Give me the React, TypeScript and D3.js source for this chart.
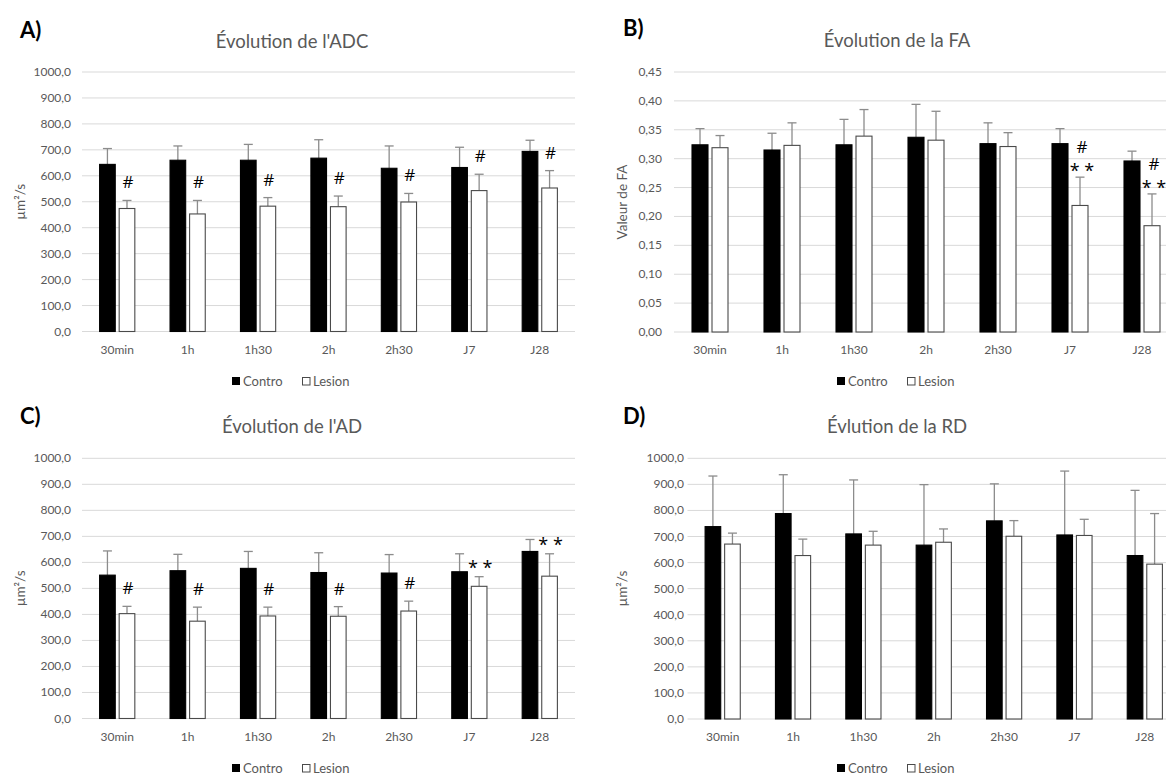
import React from 'react';
import * as d3 from 'd3';

const categories = ['30min', '1h', '1h30', '2h', '2h30', 'J7', 'J28'];
const series = ['Contro', 'Lesion'];

const adcControl = [644, 660, 660, 668, 629, 632, 694];
const adcControlSD = [61, 55, 61, 71, 86, 78, 43];
const adcLesion = [474, 453, 483, 481, 499, 543, 553];
const adcLesionSD = [31, 52, 33, 41, 33, 63, 67];
const adcMarks = [['#'], ['#'], ['#'], ['#'], ['#'], ['#'], ['#']];

const faControl = [0.324, 0.315, 0.324, 0.337, 0.326, 0.326, 0.296];
const faControlSD = [0.028, 0.029, 0.044, 0.057, 0.036, 0.026, 0.017];
const faLesion = [0.319, 0.323, 0.339, 0.332, 0.321, 0.219, 0.184];
const faLesionSD = [0.021, 0.039, 0.046, 0.05, 0.024, 0.049, 0.055];
const faMarks = [[], [], [], [], [], ['#', '**'], ['#', '**']];

const adControl = [551, 568, 577, 561, 559, 564, 642];
const adControlSD = [93, 63, 65, 76, 71, 69, 46];
const adLesion = [403, 374, 394, 393, 413, 508, 547];
const adLesionSD = [28, 54, 34, 37, 38, 37, 86];
const adMarks = [['#'], ['#'], ['#'], ['#'], ['#'], ['**'], ['**']];

const rdControl = [738, 788, 710, 667, 760, 706, 627];
const rdControlSD = [194, 149, 207, 232, 142, 245, 250];
const rdLesion = [671, 627, 667, 678, 701, 704, 594];
const rdLesionSD = [42, 63, 53, 51, 60, 62, 194];
const rdMarks = [[], [], [], [], [], [], []];

const umTicks = [0, 100, 200, 300, 400, 500, 600, 700, 800, 900, 1000];
const faTicks = [0, 0.05, 0.1, 0.15, 0.2, 0.25, 0.3, 0.35, 0.4, 0.45];

const FONT = 'Lato, "Open Sans", sans-serif';
const MARK_FONT = '"Open Sans", "DejaVu Sans", sans-serif';
const GREY = '#595959';

type PanelProps = {
  label: string; title: string; yLabel: string;
  x0: number; x1: number; yTop: number; yBot: number; yMax: number;
  ticks: number[]; decimals: number;
  control: number[]; controlSD: number[]; lesion: number[]; lesionSD: number[];
  marks: string[][];
  labelX: number; labelY: number; titleX: number; titleY: number;
  yLabelX: number; tickRight: number; catY: number; legendY: number; legendCX: number;
};

function Mark({ s, x, center, k }: { s: string; x: number; center: number; k: string }) {
  const isStar = s === '**';
  return (
    <text key={k} x={x} y={center + (isStar ? 11 : 6)} textAnchor="middle"
      fontSize={isStar ? 18 : 17} fontFamily={MARK_FONT} fill="#000">{isStar ? '* *' : s}</text>
  );
}

function Panel(p: PanelProps) {
  const x = d3.scaleBand<string>().domain(categories).range([p.x0, p.x1]).padding(0);
  const cw = x.bandwidth();
  const xs = d3.scaleBand<string>().domain(series).range([cw * 0.25, cw * 0.75]).paddingInner(0.2);
  const bw = xs.bandwidth();
  const y = d3.scaleLinear().domain([0, p.yMax]).range([p.yBot, p.yTop]);
  const fmt = (v: number) => v.toFixed(p.decimals).replace('.', ',');
  const cap = 4.5;
  const errColor = '#8c8c8c';

  const bars: React.ReactNode[] = [];
  categories.forEach((c, i) => {
    const vals = [
      { s: 'Contro', v: p.control[i], sd: p.controlSD[i] },
      { s: 'Lesion', v: p.lesion[i], sd: p.lesionSD[i] },
    ];
    vals.forEach(({ s, v, sd }) => {
      const bx = (x(c) as number) + (xs(s) as number);
      const cx = bx + bw / 2;
      const top = y(v);
      const et = y(v + sd);
      bars.push(
        <g key={c + s}>
          <line x1={cx} x2={cx} y1={top} y2={et} stroke={errColor} strokeWidth={1.3} />
          <line x1={cx - cap} x2={cx + cap} y1={et} y2={et} stroke={errColor} strokeWidth={1.3} />
          <rect x={bx} y={top} width={bw} height={p.yBot - top}
            fill={s === 'Contro' ? '#000' : '#fff'}
            stroke={s === 'Contro' ? '#000' : '#4a4a4a'} strokeWidth={1.1} />
        </g>
      );
    });
    const m = p.marks[i];
    if (m.length) {
      const cx = (x(c) as number) + (xs('Lesion') as number) + bw / 2;
      const et = y(p.lesion[i] + p.lesionSD[i]);
      if (m.length === 1) {
        const isStar = m[0] === '**';
        bars.push(<Mark key={c + 'm'} k={c + 'm'} s={m[0]} x={cx + 1} center={isStar ? et - 14 : et - 18} />);
      } else {
        bars.push(
          <Mark key={c + 'm1'} k={c + 'm1'} s={m[0]} x={cx + 2} center={et - 30} />,
          <Mark key={c + 'm2'} k={c + 'm2'} s={m[1]} x={cx + 2} center={et - 11} />
        );
      }
    }
  });

  const lx = p.legendCX - 60;
  const yMid = (p.yTop + p.yBot) / 2;

  return (
    <g>
      <text x={p.labelX} y={p.labelY} fontSize={22} fontWeight="bold" fontFamily={FONT} fill="#000">{p.label}</text>
      <text x={p.titleX} y={p.titleY} fontSize={18.5} textAnchor="middle" fontFamily={FONT} fill={GREY}>{p.title}</text>
      {p.ticks.map((t) => (
        <g key={'t' + t}>
          <line x1={p.x0} x2={p.x1} y1={y(t)} y2={y(t)} stroke="#d9d9d9" strokeWidth={1} />
          <text x={p.tickRight} y={y(t) + 4} textAnchor="end" fontSize={12} fontFamily={FONT} fill={GREY}>{fmt(t)}</text>
        </g>
      ))}
      <text transform={`translate(${p.yLabelX},${yMid}) rotate(-90)`} textAnchor="middle" dy="0.35em"
        fontSize={13.5} fontFamily={FONT} fill={GREY}>{p.yLabel}</text>
      {bars}
      {categories.map((c) => (
        <text key={'c' + c} x={(x(c) as number) + cw / 2} y={p.catY} textAnchor="middle"
          fontSize={12} fontFamily={FONT} fill={GREY}>{c}</text>
      ))}
      <rect x={lx} y={p.legendY - 4} width={8} height={8} fill="#000" />
      <text x={lx + 11} y={p.legendY + 4.5} fontSize={13} fontFamily={FONT} fill={GREY}>Contro</text>
      <rect x={lx + 70.5} y={p.legendY - 3.5} width={7.5} height={7.5} fill="#fff" stroke="#4a4a4a" strokeWidth={1} />
      <text x={lx + 81} y={p.legendY + 4.5} fontSize={13} fontFamily={FONT} fill={GREY}>Lesion</text>
    </g>
  );
}

export default function App() {
  return (
    <svg width={1166} height={774} style={{ position: 'absolute', left: 0, top: 0, background: '#fff' }}>
      <rect x={0} y={0} width={1166} height={774} fill="#fff" />
      <Panel label="A)" title="Évolution de l'ADC" yLabel="µm²/s"
        x0={82} x1={575} yTop={72} yBot={331.5} yMax={1000} ticks={umTicks} decimals={1}
        control={adcControl} controlSD={adcControlSD} lesion={adcLesion} lesionSD={adcLesionSD} marks={adcMarks}
        labelX={20} labelY={38} titleX={292} titleY={48} yLabelX={20} tickRight={71}
        catY={354} legendY={381} legendCX={292} />
      <Panel label="B)" title="Évolution de la FA" yLabel="Valeur de FA"
        x0={674} x1={1178} yTop={72} yBot={332} yMax={0.45} ticks={faTicks} decimals={2}
        control={faControl} controlSD={faControlSD} lesion={faLesion} lesionSD={faLesionSD} marks={faMarks}
        labelX={623} labelY={36} titleX={897} titleY={47} yLabelX={622} tickRight={662}
        catY={354} legendY={381} legendCX={897} />
      <Panel label="C)" title="Évolution de l'AD" yLabel="µm²/s"
        x0={82} x1={575} yTop={458.3} yBot={718.5} yMax={1000} ticks={umTicks} decimals={1}
        control={adControl} controlSD={adControlSD} lesion={adLesion} lesionSD={adLesionSD} marks={adMarks}
        labelX={20} labelY={424} titleX={292} titleY={433} yLabelX={20} tickRight={71}
        catY={741} legendY={768} legendCX={292} />
      <Panel label="D)" title="Évlution de la RD" yLabel="µm²/s"
        x0={687.5} x1={1180} yTop={458.3} yBot={719} yMax={1000} ticks={umTicks} decimals={1}
        control={rdControl} controlSD={rdControlSD} lesion={rdLesion} lesionSD={rdLesionSD} marks={rdMarks}
        labelX={623} labelY={424} titleX={897} titleY={433} yLabelX={622} tickRight={684}
        catY={741} legendY={768} legendCX={897} />
    </svg>
  );
}
